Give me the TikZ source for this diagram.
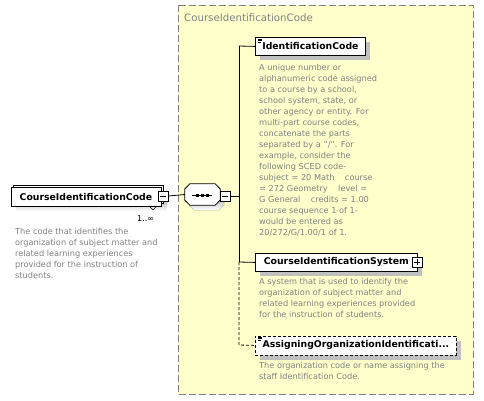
\documentclass[tikz,border=0pt]{standalone}
\usepackage{fontspec}
\setmainfont{DejaVu Sans}
\usetikzlibrary{shadows,calc}
\definecolor{boxyellow}{RGB}{255,255,204}
\definecolor{desc}{RGB}{128,128,128}
\definecolor{shade}{RGB}{192,192,192}
\definecolor{frame}{RGB}{128,128,128}
\tikzset{
  elem/.style={draw=black, fill=white, line width=0.8pt, inner sep=0pt,
    font=\fontsize{9.3}{10}\selectfont\bfseries, anchor=north west},
  shadowed/.style={drop shadow={shadow xshift=5pt, shadow yshift=-5pt, fill=shade, opacity=1}},
  elemopt/.style={elem, dash pattern=on 3pt off 2pt},
  descr/.style={text=desc, font=\fontsize{8.2}{11}\selectfont, align=left,
    anchor=north west, inner sep=0pt},
  pm/.style={draw=black, fill=white, line width=0.8pt, minimum size=10pt,
    inner sep=0pt},
  conn/.style={line width=0.8pt, draw=black},
  optconn/.style={conn, dash pattern=on 3pt off 2pt},
}
\begin{document}
\begin{tikzpicture}[x=1pt, y=-1pt]
\useasboundingbox (0,0) rectangle (484,400);
% group frame
\draw[draw=frame, fill=boxyellow, line width=0.8pt, dash pattern=on 7pt off 3pt] (178,5) rectangle (473,394);
\node[text=desc, font=\fontsize{10.2}{12}\selectfont, anchor=west, inner sep=0pt] (title) at (184,18) {CourseIdentificationCode};

% main element (stacked)
\fill[shade] (16,192) rectangle (167,211);
\draw[fill=white, line width=0.8pt] (13,185) rectangle (163,203);
\node[elem, minimum width=150pt, minimum height=19pt] (main) at (10.5,187) {CourseIdentificationCode};
\node[pm] (m1) at (163,196) {};
\draw[line width=0.8pt] ($(m1.west)+(2,0)$) -- ($(m1.east)-(2,0)$);
\draw[line width=0.6pt] (149,206) -- (153,210) -- (157,206);
\node[font=\fontsize{8}{10}\selectfont, anchor=west, inner sep=0pt] (card) at (137,219) {1..∞};
\node[descr] (maind) at (15,228) {The code that identifies the\\organization of subject matter and\\related learning experiences\\provided for the instruction of\\students.};

% sequence compositor
\fill[shade] (194,189) -- (219,189) -- (224,194) -- (224,205) -- (219,210) -- (194,210) -- (189,205) -- (189,194) -- cycle;
\node[minimum width=35pt, minimum height=21pt, inner sep=0pt] (seq) at (202.5,194.5) {};
\draw[fill=white, line width=0.8pt] ($(seq.west)+(0,-5.5)$) -- ($(seq.north west)+(5,0)$) -- ($(seq.north east)+(-5,0)$) -- ($(seq.east)+(0,-5.5)$) -- ($(seq.east)+(0,5.5)$) -- ($(seq.south east)+(-5,0)$) -- ($(seq.south west)+(5,0)$) -- ($(seq.west)+(0,5.5)$) -- cycle;
\draw[line width=0.8pt] (192,195) -- (212,195);
\foreach \xx in {197,202,207} \fill (\xx-1.5,193.5) rectangle (\xx+1.5,196.5);
\node[pm] (m2) at (225,196) {};
\draw[line width=0.8pt] ($(m2.west)+(2,0)$) -- ($(m2.east)-(2,0)$);

% children
\node[elem, shadowed, minimum width=110pt, minimum height=18pt] (ic) at (255,37) {IdentificationCode};
\draw[line width=0.6pt] (258,39) -- (262,39) (258,40.5) -- (262,40.5) (258,42) -- (261,42);
\node[descr] (icd) at (259,64) {A unique number or\\alphanumeric code assigned\\to a course by a school,\\school system, state, or\\other agency or entity. For\\multi-part course codes,\\concatenate the parts\\separated by a "/". For\\example, consider the\\following SCED code-\\subject = 20 Math \ \ \ course\\= 272 Geometry \ \ \ level =\\G General \ \ \ credits = 1.00\\course sequence 1 of 1-\\would be entered as\\20/272/G/1.00/1 of 1.};

\node[elem, shadowed, minimum width=162pt, minimum height=18pt] (cis) at (255,253) {CourseIdentificationSystem};
\node[pm] (p1) at (417,262) {};
\draw[line width=0.8pt] ($(p1.west)+(2,0)$) -- ($(p1.east)-(2,0)$) ($(p1.north)+(0,2)$) -- ($(p1.south)-(0,2)$);
\node[descr] (cisd) at (259,278) {A system that is used to identify the\\organization of subject matter and\\related learning experiences provided\\for the instruction of students.};

\node[elemopt, shadowed, minimum width=201pt, minimum height=19pt] (aoi) at (255,335.5) {AssigningOrganizationIdentificati...};
\draw[line width=0.6pt] (258,337) -- (262,337) (258,338.5) -- (262,338.5) (258,340) -- (261,340);
\node[descr] (aoid) at (259,362) {The organization code or name assigning the\\staff Identification Code.};

% connectors
\coordinate (jt) at (239,46);
\coordinate (jm) at (239,262);
\coordinate (jb) at (239,345);
\draw[conn] (m1.east) -- (seq.west);
\draw[conn] (m2.east) -- (m2.east -| jt);
\draw[conn] (jt) -- (jm);
\draw[conn] (jt) -- (ic.west);
\draw[conn] (jm) -- (cis.west);
\draw[optconn] (jm) -- (jb) -- (aoi.west);
\end{tikzpicture}
\end{document}
